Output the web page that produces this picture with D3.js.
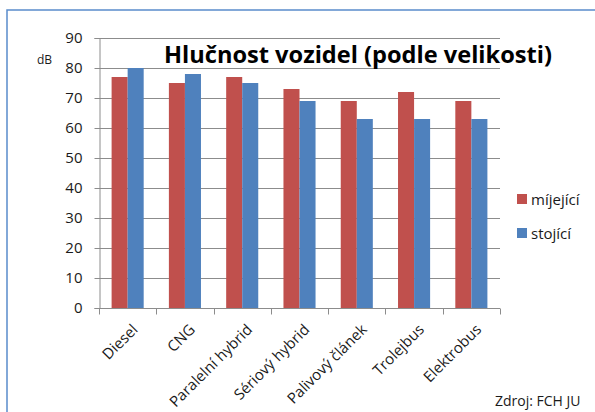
<!DOCTYPE html>
<html>
<head>
<meta charset="utf-8">
<script src="https://cdn.jsdelivr.net/npm/d3@7"></script>
<style>
  body { margin: 0; background: #fff; }
  svg { display: block; font-family: "Open Sans", sans-serif; }
</style>
</head>
<body>
<div id="chart"></div>
<script>
var categories = ["Diesel", "CNG", "Paralelní hybrid", "Sériový hybrid", "Palivový článek", "Trolejbus", "Elektrobus"];
var series = ["míjející", "stojící"];
var mijejici = [77, 75, 77, 73, 69, 72, 69];
var stojici = [80, 78, 75, 69, 63, 63, 63];
var yTicks = [0, 10, 20, 30, 40, 50, 60, 70, 80, 90];

var W = 595, H = 412;
var margin = {top: 38, left: 99, right: 95, bottom: 104};
var width = W - margin.left - margin.right,
    height = H - margin.top - margin.bottom;

var svg = d3.select("#chart").append("svg")
    .attr("width", W)
    .attr("height", H);

// frame
svg.append("rect")
    .attr("x", 7).attr("y", 10)
    .attr("width", W).attr("height", H)
    .attr("fill", "none")
    .attr("stroke", "#5a8ccc")
    .attr("stroke-width", 1.5);

var g = svg.append("g")
    .attr("transform", "translate(" + margin.left + "," + margin.top + ")");

var x0 = d3.scaleBand().domain(categories).range([0, width]).paddingInner(0.44).paddingOuter(0.22);
var x1 = d3.scaleBand().domain(series).range([0, x0.bandwidth()]);
var y = d3.scaleLinear().domain([0, 90]).range([height, 0]);
var color = d3.scaleOrdinal().domain(series).range(["#c0504d", "#4f81bd"]);

// grid lines
g.append("g")
    .selectAll("line")
    .data(yTicks.slice(1))
    .enter().append("line")
      .attr("x1", 0).attr("x2", width)
      .attr("y1", function(d) { return Math.round(y(d)) + 0.5; })
      .attr("y2", function(d) { return Math.round(y(d)) + 0.5; })
      .attr("stroke", "#8c8c8c");

// y axis
var yAxis = g.append("g")
    .attr("transform", "translate(0.5,0)")
    .call(d3.axisLeft(y).tickValues(yTicks).tickSize(5).tickPadding(12));
yAxis.select(".domain").attr("stroke", "#8c8c8c");
yAxis.selectAll(".tick line").attr("stroke", "#8c8c8c");
yAxis.selectAll(".tick text")
    .attr("font-family", "Open Sans")
    .attr("font-size", "15px")
    .attr("fill", "#1a1a1a");

// bars
var data = categories.map(function(c, i) {
  return {cat: c, values: [{key: series[0], v: mijejici[i]}, {key: series[1], v: stojici[i]}]};
});

g.append("g")
  .selectAll("g")
  .data(data)
  .enter().append("g")
    .attr("transform", function(d) { return "translate(" + x0(d.cat) + ",0)"; })
  .selectAll("rect")
  .data(function(d) { return d.values; })
  .enter().append("rect")
    .attr("x", function(d) { return x1(d.key); })
    .attr("y", function(d) { return y(d.v); })
    .attr("width", x1.bandwidth())
    .attr("height", function(d) { return height - y(d.v); })
    .attr("fill", function(d) { return color(d.key); });

// x axis
var step = x0.step();
var xa = g.append("g").attr("transform", "translate(0," + (height + 0.5) + ")");
xa.append("line")
    .attr("x1", 0).attr("x2", width)
    .attr("stroke", "#8c8c8c");
xa.selectAll(".xtick")
    .data(d3.range(categories.length + 1))
    .enter().append("line")
      .attr("class", "xtick")
      .attr("x1", function(i) { return Math.round(i * step) + 0.5; })
      .attr("x2", function(i) { return Math.round(i * step) + 0.5; })
      .attr("y1", 0).attr("y2", 6)
      .attr("stroke", "#8c8c8c");
xa.selectAll(".xlab")
    .data(categories)
    .enter().append("text")
      .attr("class", "xlab")
      .attr("transform", function(d) {
        return "translate(" + (x0(d) + x0.bandwidth() / 2 + 11) + ",22) rotate(-45)";
      })
      .attr("text-anchor", "end")
      .attr("font-size", "15px")
      .attr("fill", "#1a1a1a")
      .text(function(d) { return d; });

// unit label
svg.append("text")
    .attr("x", 37).attr("y", 64)
    .attr("font-size", "12px")
    .attr("fill", "#1a1a1a")
    .text("dB");

// title
svg.append("text")
    .attr("x", 164).attr("y", 63)
    .attr("font-size", "23px")
    .attr("font-weight", "bold")
    .attr("textLength", 388)
    .attr("lengthAdjust", "spacingAndGlyphs")
    .attr("fill", "#000")
    .text("Hlučnost vozidel (podle velikosti)");

// legend
var leg = svg.append("g").selectAll("g")
    .data(series)
    .enter().append("g")
      .attr("transform", function(d, i) { return "translate(517," + (194 + i * 34) + ")"; });
leg.append("rect")
    .attr("width", 10).attr("height", 10)
    .attr("fill", function(d) { return color(d); });
leg.append("text")
    .attr("x", 14).attr("y", 11)
    .attr("font-size", "15px")
    .attr("fill", "#1a1a1a")
    .text(function(d) { return d; });

// source
svg.append("text")
    .attr("x", 495).attr("y", 406)
    .attr("font-size", "14px")
    .attr("fill", "#1a1a1a")
    .text("Zdroj: FCH JU");
</script>
</body>
</html>
